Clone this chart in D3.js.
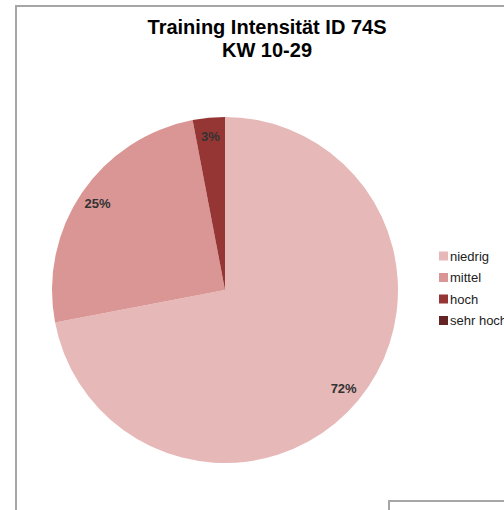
<!DOCTYPE html>
<html>
<head>
<meta charset="utf-8">
<script src="https://cdn.jsdelivr.net/npm/d3@7"></script>
<style>
  body { margin: 0; background: #fff; }
  svg { font-family: "Liberation Sans", Arial, sans-serif; }
</style>
</head>
<body>
<svg id="chart" width="504" height="510"></svg>
<script>
const categories = ['niedrig', 'mittel', 'hoch', 'sehr hoch'];
const values = [72, 25, 3, 0];
const colors = ['#E6B8B7', '#DA9694', '#963634', '#632523'];
const titleLines = ['Training Intensität ID 74S', 'KW 10-29'];

const svg = d3.select('#chart');
const width = 504, height = 510;

// outer chart frame (runs off the page) + corner of the next box
svg.append('rect')
  .attr('x', 16).attr('y', 6)
  .attr('width', 520).attr('height', 530)
  .attr('fill', '#fff')
  .attr('stroke', '#a6a6a6')
  .attr('stroke-width', 2);

svg.append('rect')
  .attr('x', 389).attr('y', 501)
  .attr('width', 140).attr('height', 40)
  .attr('fill', '#fff')
  .attr('stroke', '#a6a6a6')
  .attr('stroke-width', 2);

// title
svg.append('text')
  .attr('x', 267).attr('y', 34)
  .attr('text-anchor', 'middle')
  .attr('font-weight', 'bold')
  .attr('font-size', 20)
  .selectAll('tspan')
  .data(titleLines)
  .join('tspan')
    .attr('x', 267)
    .attr('dy', (d, i) => i === 0 ? 0 : 23)
    .text(d => d);

const cx = 225, cy = 290, radius = 173;

const pie = d3.pie().sort(null).value(d => d);
const arcs = pie(values);

const arc = d3.arc().innerRadius(0).outerRadius(radius);
const labelArc = d3.arc().innerRadius(154).outerRadius(154);

const g = svg.append('g')
  .attr('transform', `translate(${cx},${cy})`);

g.selectAll('path')
  .data(arcs)
  .join('path')
    .attr('d', arc)
    .attr('fill', (d, i) => colors[i]);

g.selectAll('text.pct')
  .data(arcs.filter(d => d.data > 0))
  .join('text')
    .attr('class', 'pct')
    .attr('transform', d => `translate(${labelArc.centroid(d)})`)
    .attr('text-anchor', 'middle')
    .attr('dy', '0.35em')
    .attr('font-size', 13)
    .attr('font-weight', 'bold')
    .attr('fill', '#333')
    .text(d => d.data + '%');

// legend
const legend = svg.append('g')
  .attr('transform', 'translate(439,256)');

const item = legend.selectAll('g')
  .data(categories)
  .join('g')
    .attr('transform', (d, i) => `translate(0,${i * 21.5})`);

item.append('rect')
  .attr('x', 0).attr('y', -4.5)
  .attr('width', 9).attr('height', 9)
  .attr('fill', (d, i) => colors[i]);

item.append('text')
  .attr('x', 11)
  .attr('dy', '0.35em')
  .attr('font-size', 13)
  .attr('fill', '#222')
  .text(d => d);
</script>
</body>
</html>
